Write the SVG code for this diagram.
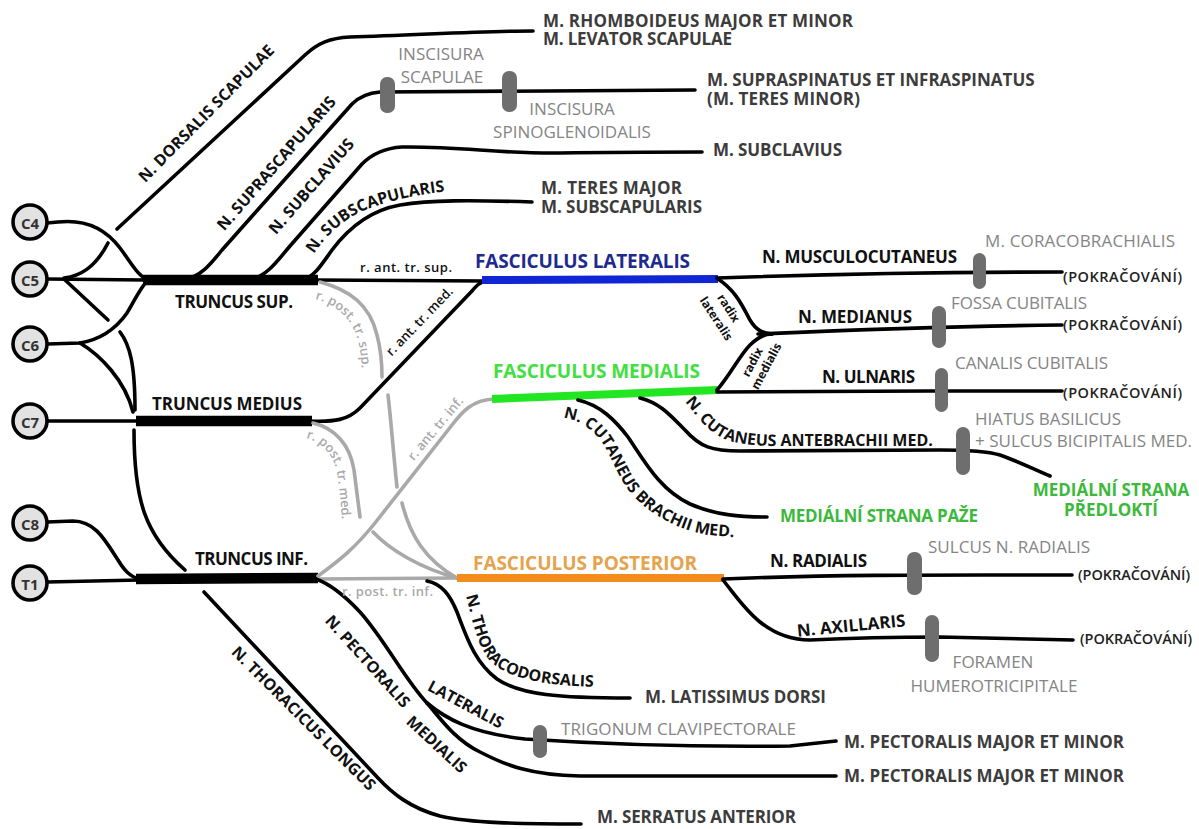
<svg xmlns="http://www.w3.org/2000/svg" width="1199" height="829" viewBox="0 0 1199 829">
<defs>
<style>
.n{fill:none;stroke:#000;stroke-width:3.6;stroke-linecap:round;stroke-linejoin:round}
.tk{stroke-width:10.5;stroke-linecap:butt}
.gy{stroke:#a9a9a9}
.cap{fill:#6e6e6e}
.rt{fill:#e2e2e2;stroke:#000;stroke-width:3.6}
text{font-family:'Open Sans','Liberation Sans',sans-serif}
.b{font-weight:700;font-size:17px;fill:#111}
.d{font-weight:700;font-size:16px;fill:#111}
.m{font-weight:700;font-size:17px;fill:#3c3c3c}
.g{font-weight:400;font-size:17px;fill:#858585}
.sm{font-weight:600;font-size:13px;fill:#111}
.sg{font-weight:600;font-size:13px;fill:#a9a9a9}
.pk{font-weight:600;font-size:14.5px;fill:#222}
.rx{font-weight:700;font-size:12px;fill:#111}
.gn{font-weight:700;font-size:17px;fill:#3cb93c}
.fa{font-weight:700;font-size:19px}
.rl{font-weight:700;font-size:15px;fill:#333;text-anchor:middle;dominant-baseline:central}
.c{dominant-baseline:central;text-anchor:middle}
.mid{text-anchor:middle}
</style>
<path id="tpSubscap" d="M314,254 C326,236 343,218 370,208 C398,198 430,192 462,190"/>
<path id="tpPostSup" d="M315,299 C338,305 352,320 358,340 C361,352 362,365 362,382"/>
<path id="tpPostMed" d="M306,438 C322,442 333,455 337,472 C340,490 341,510 343,532"/>
<path id="tpBrachii" d="M563,418 C580,420 594,430 603,444 C613,460 618,477 630,492 C648,514 678,530 708,535 L755,539"/>
<path id="tpAnte" d="M685,402 C697,415 706,433 730,441 C745,445 760,446 775,446 L955,446"/>
<path id="tpThoraco" d="M466,596 C471,614 475,639 487,657 C501,676 536,687 610,687"/>
</defs>
<rect width="1199" height="829" fill="#fff"/>

<g id="connectors">
  <path class="n" d="M47,223 L58,222 C85,219 105,228 120,248 C132,264 138,276 148,280"/>
  <path class="n" d="M47,279 L145,280"/>
  <path class="n" d="M64,278 C80,276 95,268 108,243"/>
  <path class="n" d="M64,279 L108,320"/>
  <path class="n" d="M120,332 C130,345 135,365 135,410"/>
  <path class="n" d="M47,344 L80,343 C98,340 115,330 127,313 C135,300 140,288 148,280"/>
  <path class="n" d="M80,343 C100,355 125,380 133,412"/>
  <path class="n" d="M47,421 L140,421"/>
  <path class="n" d="M134,430 C134,500 145,535 185,570"/>
  <path class="n" d="M47,522 L73,521 C95,521 105,540 118,560 C124,570 130,577 140,579"/>
  <path class="n" d="M47,582 L140,580"/>
  <path class="n tk" d="M143,280 L318,280"/>
  <path class="n tk" d="M136,421 L312,421"/>
  <path class="n tk" d="M136,579 L318,578"/>
  <path class="n" d="M117,229 L305,55 C318,43 330,38 350,37 C420,35 480,31 533,31"/>
  <path class="n" d="M185,279 C200,277 210,265 222,250 L352,104 C360,96 368,93 380,92 L695,90"/>
  <path class="n" d="M252,279 C268,275 278,260 290,246 L362,164 C372,154 386,148 402,147 C460,146 500,154 560,153 C620,152 660,152 702,152"/>
  <path class="n" d="M303,280 C315,276 322,264 332,250 C350,226 372,210 400,205 C430,200 470,200 532,202"/>
  <path class="n" d="M315,280 L485,281"/>
  <path class="n" d="M310,421 C335,422 348,420 360,408 L472,291 C477,285 480,282 487,281"/>
  <path class="n gy" d="M320,282 C350,290 370,305 377,335 C381,350 382,365 382,377"/>
  <path class="n gy" d="M388,395 C391,420 394,460 397,487"/>
  <path class="n gy" d="M402,503 C410,535 425,560 457,578"/>
  <path class="n gy" d="M313,423 C335,428 350,445 354,470 L360,517"/>
  <path class="n gy" d="M373,532 C390,550 420,568 457,578"/>
  <path class="n gy" d="M318,576 C340,560 355,548 375,523 L452,425 C462,412 472,400 494,399"/>
  <path class="n gy" d="M318,579 L457,578"/>
  <path fill="none" stroke="#1026d4" stroke-width="8" d="M482,280 L718,279"/>
  <path fill="none" stroke="#22e622" stroke-width="8" d="M492,399 L718,390"/>
  <path fill="none" stroke="#f38b1d" stroke-width="8" d="M457,578 L724,578"/>
  <path class="n" d="M717,278 C800,275 900,272 1062,272"/>
  <path class="n" d="M718,279 C735,290 742,305 750,320 C756,330 762,333 772,334"/>
  <path class="n" d="M758,334 C850,330 950,326 1062,325"/>
  <path class="n" d="M717,390 C730,375 740,355 750,345 C758,337 765,334 772,334"/>
  <path class="n" d="M717,392 C800,391 950,391 1062,391"/>
  <path class="n" d="M640,398 C660,403 670,415 685,430 C700,447 712,451 740,451 L940,450 C975,450 990,452 1000,455 C1020,462 1035,470 1050,476"/>
  <path class="n" d="M578,400 C600,405 615,420 628,437 C645,462 660,490 690,504 C715,515 740,517 767,517"/>
  <path class="n" d="M723,579 C850,574 950,575 1072,575"/>
  <path class="n" d="M723,580 C735,595 745,610 760,622 C775,634 790,640 810,640 C850,638 900,637 940,637 L1073,640"/>
  <path class="n" d="M427,581 C442,584 450,595 457,612 C466,635 474,662 497,679 C520,695 560,698 630,698"/>
  <path class="n" d="M316,579 C330,584 345,596 360,612 C385,640 405,680 427,703"/>
  <path class="n" d="M427,703 C445,718 470,733 525,739 C600,744 700,747 790,746 L836,741"/>
  <path class="n" d="M427,703 C440,718 455,740 480,752 C505,765 530,775 580,776 L836,776"/>
  <path class="n" d="M204,592 L378,778 C392,793 410,808 440,816 C470,823 520,824 581,824"/>
</g>

<g id="capsules">
  <rect class="cap" x="380" y="77" width="15" height="36" rx="7"/>
  <rect class="cap" x="502" y="71" width="15" height="41" rx="7"/>
  <rect class="cap" x="973" y="253" width="13" height="36" rx="6.5"/>
  <rect class="cap" x="932" y="306" width="14" height="42" rx="7"/>
  <rect class="cap" x="935" y="368" width="13" height="44" rx="6.5"/>
  <rect class="cap" x="956" y="427" width="14" height="48" rx="7"/>
  <rect class="cap" x="907" y="552" width="15" height="43" rx="7"/>
  <rect class="cap" x="925" y="615" width="14" height="47" rx="7"/>
  <rect class="cap" x="533" y="725" width="14" height="33" rx="7"/>
</g>

<g id="root-C4"><circle class="rt" cx="30" cy="222" r="17"/><text class="rl" x="30" y="223">C4</text></g>
<g id="root-C5"><circle class="rt" cx="30" cy="279" r="17"/><text class="rl" x="30" y="280">C5</text></g>
<g id="root-C6"><circle class="rt" cx="30" cy="344" r="17"/><text class="rl" x="30" y="345">C6</text></g>
<g id="root-C7"><circle class="rt" cx="30" cy="421" r="17"/><text class="rl" x="30" y="422">C7</text></g>
<g id="root-C8"><circle class="rt" cx="30" cy="523" r="17"/><text class="rl" x="30" y="524">C8</text></g>
<g id="root-T1"><circle class="rt" cx="30" cy="583" r="17"/><text class="rl" x="30" y="584">T1</text></g>

<g id="trunks">
  <text class="b" x="175" y="308" textLength="118">TRUNCUS SUP.</text>
  <text class="b" x="152" y="410" textLength="150">TRUNCUS MEDIUS</text>
  <text class="b" x="195" y="565" textLength="113">TRUNCUS INF.</text>
</g>

<g id="divisions">
  <text class="sm" x="360" y="272" textLength="92">r. ant. tr. sup.</text>
  <text class="sm c" transform="translate(419,321) rotate(-46)">r. ant. tr. med.</text>
  <text class="sg c" transform="translate(435,428) rotate(-50)">r. ant. tr. inf.</text>
  <text class="sg"><textPath href="#tpPostSup">r. post. tr. sup.</textPath></text>
  <text class="sg"><textPath href="#tpPostMed">r. post. tr. med.</textPath></text>
  <text class="sg" x="342" y="596" textLength="91">r. post. tr. inf.</text>
</g>

<g id="cords">
  <text class="fa" x="475" y="268" textLength="215" fill="#1e2b8e">FASCICULUS LATERALIS</text>
  <text class="fa" x="493" y="378" textLength="207" fill="#3fe03f">FASCICULUS MEDIALIS</text>
  <text class="fa" x="473" y="570" textLength="224" fill="#e6a24c">FASCICULUS POSTERIOR</text>
</g>

<g id="n-dorsalis-scapulae">
  <text class="d c" transform="translate(206,113) rotate(-45.4)">N. DORSALIS SCAPULAE</text>
  <text class="m" x="543" y="27" textLength="310">M. RHOMBOIDEUS MAJOR ET MINOR</text>
  <text class="m" x="543" y="45" textLength="189">M. LEVATOR SCAPULAE</text>
</g>
<g id="n-suprascapularis">
  <text class="d c" transform="translate(276,163) rotate(-49)">N. SUPRASCAPULARIS</text>
  <text class="g mid" x="441" y="60">INSCISURA</text>
  <text class="g mid" x="442" y="83">SCAPULAE</text>
  <text class="g mid" x="572" y="115">INSCISURA</text>
  <text class="g mid" x="572" y="138">SPINOGLENOIDALIS</text>
  <text class="m" x="707" y="86">M. SUPRASPINATUS ET INFRASPINATUS</text>
  <text class="m" x="707" y="105" textLength="153">(M. TERES MINOR)</text>
</g>
<g id="n-subclavius">
  <text class="d c" transform="translate(311,186) rotate(-49)">N. SUBCLAVIUS</text>
  <text class="m" x="713" y="156" textLength="129">M. SUBCLAVIUS</text>
</g>
<g id="n-subscapularis">
  <text class="d"><textPath href="#tpSubscap">N. SUBSCAPULARIS</textPath></text>
  <text class="m" x="541" y="194" textLength="141">M. TERES MAJOR</text>
  <text class="m" x="541" y="213" textLength="161">M. SUBSCAPULARIS</text>
</g>
<g id="n-musculocutaneus">
  <text class="b" x="762" y="263" textLength="195">N. MUSCULOCUTANEUS</text>
  <text class="g" x="985" y="247" textLength="190">M. CORACOBRACHIALIS</text>
  <text class="pk" x="1063" y="282" textLength="119">(POKRAČOVÁNÍ)</text>
</g>
<g id="n-medianus">
  <text class="rx c" transform="translate(729,308) rotate(57)">radix</text>
  <text class="rx c" transform="translate(716.5,318.5) rotate(57)">lateralis</text>
  <text class="rx c" transform="translate(752,362) rotate(-62)">radix</text>
  <text class="rx c" transform="translate(766,366) rotate(-62)">medialis</text>
  <text class="b" x="798" y="323" textLength="114">N. MEDIANUS</text>
  <text class="g" x="951" y="309" textLength="136">FOSSA CUBITALIS</text>
  <text class="pk" x="1063" y="330" textLength="119">(POKRAČOVÁNÍ)</text>
</g>
<g id="n-ulnaris">
  <text class="b" x="822" y="383" textLength="93">N. ULNARIS</text>
  <text class="g" x="955" y="369" textLength="153">CANALIS CUBITALIS</text>
  <text class="pk" x="1063" y="398" textLength="119">(POKRAČOVÁNÍ)</text>
</g>
<g id="n-cutaneus-antebrachii-med">
  <text class="d"><textPath href="#tpAnte">N. CUTANEUS ANTEBRACHII MED.</textPath></text>
  <text class="g" x="975" y="425" textLength="146">HIATUS BASILICUS</text>
  <text class="g" x="975" y="447" textLength="217">+ SULCUS BICIPITALIS MED.</text>
  <text class="gn mid" x="1111" y="496">MEDIÁLNÍ STRANA</text>
  <text class="gn mid" x="1111" y="516">PŘEDLOKTÍ</text>
</g>
<g id="n-cutaneus-brachii-med">
  <text class="d"><textPath href="#tpBrachii">N. CUTANEUS BRACHII MED.</textPath></text>
  <text class="gn" x="780" y="522" textLength="198">MEDIÁLNÍ STRANA PAŽE</text>
</g>
<g id="n-radialis">
  <text class="b" x="770" y="567" textLength="97">N. RADIALIS</text>
  <text class="g" x="928" y="553" textLength="162">SULCUS N. RADIALIS</text>
  <text class="pk" x="1078" y="580" textLength="112">(POKRAČOVÁNÍ)</text>
</g>
<g id="n-axillaris">
  <text class="b c" transform="translate(851,625) rotate(-5.5)">N. AXILLARIS</text>
  <text class="pk" x="1080" y="644" textLength="112">(POKRAČOVÁNÍ)</text>
  <text class="g mid" x="993" y="668">FORAMEN</text>
  <text class="g mid" x="994" y="692">HUMEROTRICIPITALE</text>
</g>
<g id="n-thoracodorsalis">
  <text class="d"><textPath href="#tpThoraco">N. THORACODORSALIS</textPath></text>
  <text class="m" x="645" y="703" textLength="181">M. LATISSIMUS DORSI</text>
</g>
<g id="n-pectoralis">
  <text class="d c" transform="translate(368,661) rotate(48)">N. PECTORALIS</text>
  <text class="d c" transform="translate(466,704) rotate(28)">LATERALIS</text>
  <text class="d c" transform="translate(437,744) rotate(43)">MEDIALIS</text>
  <text class="g" x="561" y="735" textLength="235">TRIGONUM CLAVIPECTORALE</text>
  <text class="m" x="844" y="748" textLength="280">M. PECTORALIS MAJOR ET MINOR</text>
  <text class="m" x="844" y="782" textLength="280">M. PECTORALIS MAJOR ET MINOR</text>
</g>
<g id="n-thoracicus-longus">
  <text class="d c" transform="translate(304,718) rotate(45)">N. THORACICUS LONGUS</text>
  <text class="m" x="597" y="823" textLength="199">M. SERRATUS ANTERIOR</text>
</g>
</svg>
